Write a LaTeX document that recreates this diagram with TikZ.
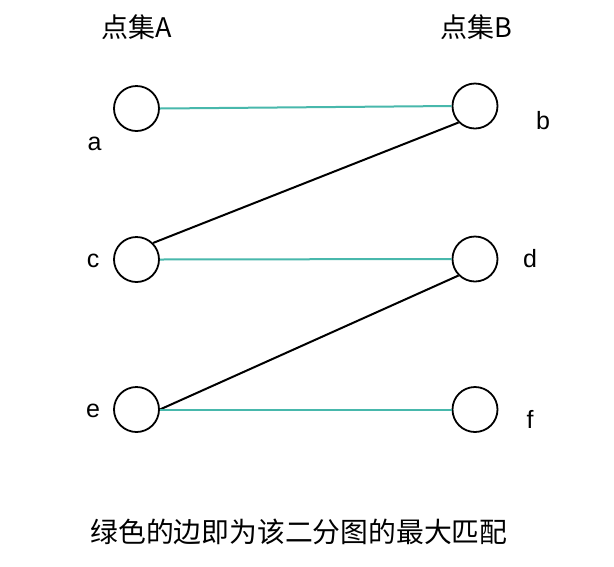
\documentclass[tikz,border=0pt]{standalone}
\usepackage{fontspec}
\setmainfont{Liberation Sans}
\newfontfamily\cjk{Noto Sans CJK SC}
\definecolor{matchteal}{RGB}{72,184,172}
\begin{document}
\begin{tikzpicture}[x=1pt,y=-1pt,
  vtx/.style={circle,draw=black,line width=1.8pt,minimum size=45pt,inner sep=0pt,fill=white},
  lbl/.style={anchor=base,font=\fontsize{25}{30}\selectfont,inner sep=0pt},
  ttl/.style={anchor=base,font=\cjk\fontsize{27}{32}\selectfont,inner sep=0pt},
  captiontext/.style={anchor=base,font=\cjk\fontsize{27.8}{33}\selectfont,inner sep=0pt},
  matchedge/.style={draw=matchteal,line width=2pt},
  plainedge/.style={draw=black,line width=2pt}]
\useasboundingbox (0,0) rectangle (614,566);
\fill[white] (0,0) rectangle (614,566);
% titles
\node[ttl] (tA) at (137,37) {点集A};
\node[ttl] (tB) at (476,37) {点集B};
% vertices
\node[vtx] (a) at (136.5,108.5) {};
\node[vtx] (b) at (475,106) {};
\node[vtx] (c) at (136.5,259.5) {};
\node[vtx] (d) at (475,259) {};
\node[vtx] (e) at (136.5,409.5) {};
\node[vtx] (f) at (475,409.5) {};
% labels
\node[lbl] (la) at (94.5,150) {a};
\node[lbl] (lb) at (543,129) {b};
\node[lbl] (lc) at (93,267) {c};
\node[lbl] (ld) at (530,267) {d};
\node[lbl] (le) at (93,417) {e};
\node[lbl] (lf) at (530,428) {f};
% edges
\draw[matchedge] (a.east) -- (b.west);
\draw[plainedge] (c.north east) -- (b.south west);
\draw[matchedge] (c.east) -- (d.west);
\draw[plainedge] (e.east) -- (d.south west);
\draw[matchedge] (e.east) -- (f.west);
% caption
\node[captiontext] (capt) at (299,542) {绿色的边即为该二分图的最大匹配};
\end{tikzpicture}
\end{document}
